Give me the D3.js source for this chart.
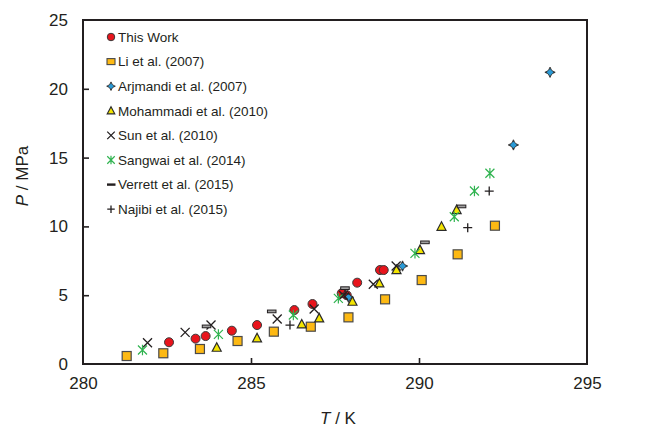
<!DOCTYPE html>
<html>
<head>
<meta charset="utf-8">
<script src="https://cdn.jsdelivr.net/npm/d3@7"></script>
<style>
  html, body { margin: 0; padding: 0; background: #fff; }
  svg { display: block; font-family: "Liberation Sans", Arial, sans-serif; }
</style>
</head>
<body>
<svg id="chart" width="654" height="428"></svg>
<script>
// Hydrate dissociation pressure vs. temperature, several literature sources
const xTicks = [280, 285, 290, 295];
const yTicks = [0, 5, 10, 15, 20, 25];

const thisWorkT = [282.56, 283.35, 283.65, 284.43, 285.18, 286.29, 286.83, 287.70, 287.85, 288.16, 288.84, 288.95];
const thisWorkP = [1.58, 1.84, 2.03, 2.42, 2.83, 3.92, 4.36, 5.14, 5.0, 5.91, 6.83, 6.83];

const liT = [281.30, 282.39, 283.48, 284.60, 285.68, 286.78, 287.90, 288.99, 290.08, 291.15, 292.26];
const liP = [0.58, 0.78, 1.09, 1.67, 2.35, 2.71, 3.39, 4.70, 6.10, 7.97, 10.05];

const arjmandiT = [287.90, 289.51, 292.81, 293.90];
const arjmandiP = [4.85, 7.12, 15.92, 21.20];

const mohammadiT = [283.98, 285.18, 286.51, 287.03, 288.02, 288.82, 289.33, 290.03, 290.67, 291.12];
const mohammadiP = [1.19, 1.87, 2.88, 3.32, 4.53, 5.86, 6.83, 8.28, 9.98, 11.19];

const sunT = [281.92, 283.04, 283.81, 285.78, 286.88, 287.75, 288.64, 289.32];
const sunP = [1.55, 2.30, 2.83, 3.27, 4.00, 5.00, 5.79, 7.12];

const sangwaiT = [281.77, 284.03, 286.26, 287.60, 289.88, 291.05, 291.65, 292.11];
const sangwaiP = [1.02, 2.15, 3.56, 4.77, 8.04, 10.70, 12.57, 13.86];

const verrettT = [283.63, 285.57, 287.75, 290.13, 291.22];
const verrettP = [2.47, 3.56, 5.25, 8.58, 11.19];

const najibiT = [286.16, 287.80, 291.45, 292.09];
const najibiP = [2.83, 5.10, 9.91, 12.57];

const seriesNames = [
  "This Work", "Li et al. (2007)", "Arjmandi et al. (2007)", "Mohammadi et al. (2010)",
  "Sun et al. (2010)", "Sangwai et al. (2014)", "Verrett et al. (2015)", "Najibi et al. (2015)"
];
const seriesT = [thisWorkT, liT, arjmandiT, mohammadiT, sunT, sangwaiT, verrettT, najibiT];
const seriesP = [thisWorkP, liP, arjmandiP, mohammadiP, sunP, sangwaiP, verrettP, najibiP];
const seriesShape = ["circle", "square", "diamond", "triangle", "cross", "asterisk", "dash", "plus"];

const svg = d3.select("#chart");
const m = { left: 83, right: 587, top: 20, bottom: 364 };

const x = d3.scaleLinear().domain([280, 295]).range([m.left, m.right]);
const y = d3.scaleLinear().domain([0, 25]).range([m.bottom, m.top]);

const ink = "#231f20";

// Marker painter: draws one symbol centred on (0,0) into group g
function drawMarker(g, shape, s) {
  const h = s / 2;
  switch (shape) {
    case "circle":
      g.append("circle").attr("r", h).attr("fill", "#e8141c").attr("stroke", "#3a3a3a").attr("stroke-width", 1);
      break;
    case "square":
      g.append("rect").attr("x", -h).attr("y", -h).attr("width", s).attr("height", s)
        .attr("fill", "#fdb913").attr("stroke", "#4a4a4a").attr("stroke-width", 1.2);
      break;
    case "diamond": {
      const d = h * 1.15, w = h * 0.55;
      g.append("path")
        .attr("d", `M0,${-d} Q${w * 0.35},${-w * 0.35} ${d},0 Q${w * 0.35},${w * 0.35} 0,${d} Q${-w * 0.35},${w * 0.35} ${-d},0 Q${-w * 0.35},${-w * 0.35} 0,${-d}Z`)
        .attr("fill", "#222").attr("stroke", "#222").attr("stroke-width", 0.8);
      g.append("path")
        .attr("d", `M0,${-h * 0.75} L${h * 0.75},0 L0,${h * 0.75} L${-h * 0.75},0Z`)
        .attr("fill", "#2a9ad6");
      break;
    }
    case "triangle":
      g.append("path").attr("d", `M0,${-h * 1.1} L${h},${h * 0.8} L${-h},${h * 0.8}Z`)
        .attr("fill", "#f4e500").attr("stroke", "#2b2b2b").attr("stroke-width", 1.2).attr("stroke-linejoin", "miter");
      break;
    case "cross":
      g.append("path").attr("d", `M${-h},${-h} L${h},${h} M${-h},${h} L${h},${-h}`)
        .attr("stroke", ink).attr("stroke-width", 1.3).attr("fill", "none");
      break;
    case "asterisk":
      g.append("path").attr("d", `M${-h},${-h} L${h},${h} M${-h},${h} L${h},${-h} M0,${-h * 1.15} L0,${h * 1.15}`)
        .attr("stroke", "#2fb34f").attr("stroke-width", 1.2).attr("fill", "none");
      break;
    case "dash":
      g.append("rect").attr("x", -h * 0.6).attr("y", -h * 1.1).attr("width", s * 0.95).attr("height", s * 0.3)
        .attr("fill", "#a0a0a0").attr("stroke", ink).attr("stroke-width", 1);
      break;
    case "plus":
      g.append("path").attr("d", `M${-h},0 L${h},0 M0,${-h} L0,${h}`)
        .attr("stroke", ink).attr("stroke-width", 1.3).attr("fill", "none");
      break;
  }
}

// Data markers, oldest series drawn last so reference data sit above ours
const order = [0, 1, 2, 3, 4, 5, 6, 7];
order.forEach(i => {
  const pts = seriesT[i].map((t, k) => [t, seriesP[i][k]]);
  svg.append("g").selectAll("g").data(pts).join("g")
    .attr("transform", d => `translate(${x(d[0])},${y(d[1])})`)
    .each(function () { drawMarker(d3.select(this), seriesShape[i], 9); });
});

// Frame and inward ticks
const axisW = 2;
svg.append("rect").attr("x", m.left).attr("y", m.top)
  .attr("width", m.right - m.left).attr("height", m.bottom - m.top)
  .attr("fill", "none").attr("stroke", ink).attr("stroke-width", axisW);

const xAxis = d3.axisBottom(x).tickValues(xTicks).tickSizeInner(-6).tickSizeOuter(0).tickPadding(13);
const yAxis = d3.axisLeft(y).tickValues(yTicks).tickSizeInner(-6).tickSizeOuter(0).tickPadding(15);

const gx = svg.append("g").attr("transform", `translate(0,${m.bottom})`).call(xAxis);
const gy = svg.append("g").attr("transform", `translate(${m.left},0)`).call(yAxis);
[gx, gy].forEach(g => {
  g.select(".domain").remove();
  g.selectAll(".tick line").attr("stroke", ink).attr("stroke-width", 1.6);
  g.selectAll(".tick text").attr("fill", "#231f20").style("font-size", "17px")
    .style("font-family", "'Liberation Sans', Arial, sans-serif");
});
gx.selectAll(".tick line").filter(d => d === 280 || d === 295).remove();
gy.selectAll(".tick line").filter(d => d === 0 || d === 25).remove();

// Axis titles
const yTitle = svg.append("text")
  .attr("transform", `translate(28,${176}) rotate(-90)`)
  .attr("text-anchor", "middle").style("font-size", "17px").attr("fill", "#231f20");
yTitle.append("tspan").style("font-style", "italic").text("P");
yTitle.append("tspan").text(" / MPa");

const xTitle = svg.append("text")
  .attr("x", 338).attr("y", 424)
  .attr("text-anchor", "middle").style("font-size", "17px").attr("fill", "#231f20");
xTitle.append("tspan").style("font-style", "italic").text("T");
xTitle.append("tspan").text(" / K");

// Legend
const legend = svg.append("g");
seriesNames.forEach((name, i) => {
  const yy = 37 + i * 24.6;
  const mk = legend.append("g").attr("transform", `translate(111,${yy})`);
  if (seriesShape[i] === "dash") {
    mk.append("rect").attr("x", -4).attr("y", -1.2).attr("width", 8.5).attr("height", 2.4).attr("fill", ink);
  } else if (seriesShape[i] === "square") {
    mk.append("rect").attr("x", -4).attr("y", -3).attr("width", 8).attr("height", 6)
      .attr("fill", "#fdb913").attr("stroke", "#4a4a4a").attr("stroke-width", 1.1);
  } else {
    drawMarker(mk, seriesShape[i], 7.5);
  }
  legend.append("text").attr("x", 118).attr("y", yy).attr("dy", "0.36em")
    .style("font-size", "13.5px").attr("fill", "#231f20").text(name);
});
</script>
</body>
</html>
